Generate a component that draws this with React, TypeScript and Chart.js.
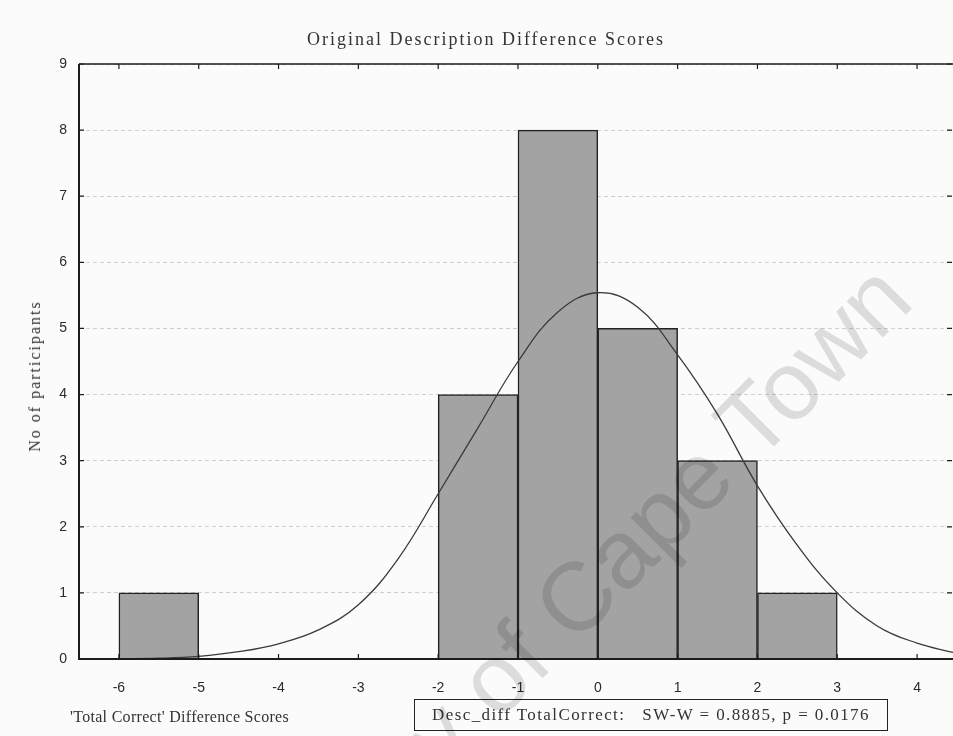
import React, { useEffect, useRef } from "react";
import { Chart, registerables } from "chart.js";

Chart.register(...registerables);

// ---- data ----
const binCenters = [-5.5, -1.5, -0.5, 0.5, 1.5, 2.5];
const binCounts = [1, 4, 8, 5, 3, 1];

const curveX = [-6.5, -6, -5.5, -5, -4.5, -4, -3.5, -3, -2.5, -2, -1.5, -1, -0.5, 0, 0.5, 1, 1.5, 2, 2.5, 3, 3.5, 4, 4.45];
const curveY = [0, 0.005, 0.012, 0.04, 0.11, 0.23, 0.44, 0.82, 1.52, 2.5, 3.5, 4.5, 5.25, 5.54, 5.32, 4.6, 3.7, 2.62, 1.72, 1.0, 0.5, 0.24, 0.1];

const xTickValues = [-6, -5, -4, -3, -2, -1, 0, 1, 2, 3, 4];
const xTickLabels = ["-6", "-5", "-4", "-3", "-2", "-1", "0", "1", "2", "3", "4"];
const yTickValues = [0, 1, 2, 3, 4, 5, 6, 7, 8, 9];
const yTickLabels = ["0", "1", "2", "3", "4", "5", "6", "7", "8", "9"];

const titleText = "Original Description Difference Scores";
const xTitleText = "'Total Correct' Difference Scores";
const yTitleText = "No of participants";
const statsText = "Desc_diff TotalCorrect:   SW-W = 0.8885, p = 0.0176";
const watermarkText = "University of Cape Town";

const W = 953;
const H = 736;

const framePlugin = {
  id: "frame",
  afterDatasetsDraw(chart: any) {
    const { ctx, chartArea: a, scales } = chart;
    const x = scales.x;
    const y = scales.y;
    ctx.save();
    ctx.strokeStyle = "#1c1c1c";
    ctx.lineWidth = 2;
    ctx.beginPath();
    ctx.moveTo(a.left, a.top);
    ctx.lineTo(a.left, a.bottom);
    ctx.lineTo(a.right, a.bottom);
    ctx.stroke();
    ctx.lineWidth = 1.6;
    ctx.beginPath();
    ctx.moveTo(a.left, a.top);
    ctx.lineTo(a.right, a.top);
    ctx.stroke();
    ctx.lineWidth = 1.2;
    ctx.beginPath();
    xTickValues.forEach((v) => {
      const px = x.getPixelForValue(v);
      ctx.moveTo(px, a.top);
      ctx.lineTo(px, a.top + 5);
      ctx.moveTo(px, a.bottom);
      ctx.lineTo(px, a.bottom - 5);
    });
    yTickValues.forEach((v) => {
      const py = y.getPixelForValue(v);
      ctx.moveTo(a.left, py);
      ctx.lineTo(a.left + 5, py);
      ctx.moveTo(a.right - 1, py);
      ctx.lineTo(a.right - 6, py);
    });
    ctx.stroke();
    ctx.restore();
  },
};

export default function App() {
  const canvasRef = useRef<HTMLCanvasElement | null>(null);

  useEffect(() => {
    if (!canvasRef.current) return;
    const chart = new Chart(canvasRef.current, {
      type: "bar",
      data: {
        datasets: [
          {
            type: "line",
            data: curveX.map((xv, i) => ({ x: xv, y: curveY[i] })),
            borderColor: "#3a3a3a",
            borderWidth: 1.3,
            pointRadius: 0,
            fill: false,
            tension: 0.4,
            order: 0,
          } as any,
          {
            type: "bar",
            data: binCenters.map((xv, i) => ({ x: xv, y: binCounts[i] })),
            backgroundColor: "#a3a3a3",
            borderColor: "#222222",
            borderWidth: 1.5,
            barPercentage: 1,
            categoryPercentage: 1,
            grouped: false,
            order: 1,
          } as any,
        ],
      },
      options: {
        animation: false,
        responsive: false,
        devicePixelRatio: 1,
        layout: { padding: { top: 64, left: 0, right: 0, bottom: 0 } },
        plugins: {
          legend: { display: false },
          tooltip: { enabled: false },
          title: { display: false },
        },
        scales: {
          x: {
            type: "linear",
            min: -6.5,
            max: 4.45,
            offset: false,
            grid: { display: false },
            border: { display: false },
            ticks: {
              autoSkip: false,
              maxRotation: 0,
              padding: 13,
              color: "#2a2a2a",
              font: { family: "Liberation Sans", size: 14 },
              callback: (v: any) => {
                const i = xTickValues.indexOf(Number(v));
                return i >= 0 ? xTickLabels[i] : "";
              },
            },
            afterBuildTicks: (s: any) => {
              s.ticks = xTickValues.map((v) => ({ value: v }));
            },
            afterFit: (s: any) => {
              s.height = 77;
            },
          },
          y: {
            type: "linear",
            min: 0,
            max: 9,
            grid: { color: "#d0d0d0", lineWidth: 1, drawTicks: false },
            border: { display: false, dash: [4, 3] },
            ticks: {
              padding: 12,
              color: "#2a2a2a",
              font: { family: "Liberation Sans", size: 14 },
              callback: (v: any) => {
                const i = yTickValues.indexOf(Number(v));
                return i >= 0 ? yTickLabels[i] : "";
              },
            },
            afterBuildTicks: (s: any) => {
              s.ticks = yTickValues.map((v) => ({ value: v }));
            },
            afterFit: (s: any) => {
              s.width = 79;
            },
          },
        },
      },
      plugins: [framePlugin],
    });
    return () => chart.destroy();
  }, []);

  const serif = "'Liberation Serif', 'DejaVu Serif', serif";

  return (
    <div
      style={{
        position: "fixed",
        left: 0,
        top: 0,
        width: W,
        height: H,
        overflow: "hidden",
        background: "#fbfbfb",
      }}
    >
      <canvas ref={canvasRef} width={W} height={H} style={{ display: "block", width: W, height: H }} />
      <div
        style={{
          position: "absolute",
          left: 486,
          top: 39,
          transform: "translate(-50%, -50%)",
          whiteSpace: "nowrap",
          fontFamily: serif,
          fontSize: 18,
          letterSpacing: 2,
          color: "#333",
        }}
      >
        {titleText}
      </div>
      <div
        style={{
          position: "absolute",
          left: 35,
          top: 376,
          transform: "translate(-50%, -50%) rotate(-90deg)",
          whiteSpace: "nowrap",
          fontFamily: serif,
          fontSize: 16,
          letterSpacing: 2,
          color: "#333",
        }}
      >
        {yTitleText}
      </div>
      <div
        style={{
          position: "absolute",
          left: 70,
          top: 717,
          transform: "translate(0, -50%)",
          whiteSpace: "nowrap",
          fontFamily: serif,
          fontSize: 16,
          letterSpacing: 0.3,
          color: "#333",
        }}
      >
        {xTitleText}
      </div>
      <div
        style={{
          position: "absolute",
          left: 414,
          top: 699,
          width: 474,
          height: 32,
          boxSizing: "border-box",
          border: "1.5px solid #222",
          display: "flex",
          alignItems: "center",
          justifyContent: "center",
          whiteSpace: "pre",
          fontFamily: serif,
          fontSize: 17,
          letterSpacing: 1.4,
          color: "#333",
        }}
      >
        {statsText}
      </div>
      <div
        style={{
          position: "absolute",
          left: 524,
          top: 650,
          transform: "translate(-50%, -50%) rotate(-45deg)",
          whiteSpace: "nowrap",
          fontFamily: "'Liberation Sans', Arial, sans-serif",
          fontSize: 97,
          color: "rgba(0,0,0,0.12)",
          pointerEvents: "none",
        }}
      >
        {watermarkText}
      </div>
    </div>
  );
}
